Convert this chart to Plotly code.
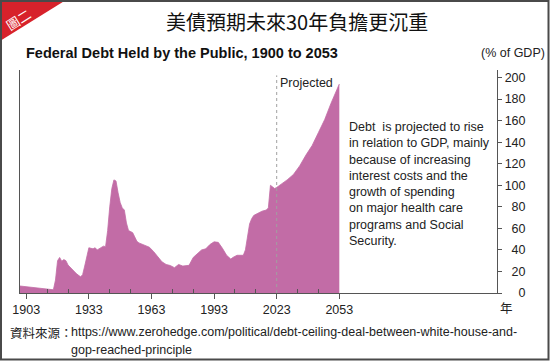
import plotly.graph_objects as go

# ---------------- data ----------------
years = [1900, 1905, 1910, 1916, 1917, 1918, 1919, 1920, 1921, 1922, 1923, 1925, 1927, 1929,
         1930, 1931, 1932, 1933, 1935, 1936, 1937, 1939, 1940, 1941, 1942, 1943, 1944, 1945,
         1946, 1947, 1948, 1949, 1950, 1951, 1952, 1953, 1954, 1955, 1956, 1957, 1959, 1960,
         1962, 1964, 1966, 1968, 1970, 1972, 1974, 1976, 1978, 1980, 1981, 1983, 1985, 1987,
         1989, 1991, 1993, 1995, 1997, 1999, 2001, 2002, 2004, 2007, 2008, 2009, 2010, 2011,
         2012, 2014, 2016, 2018, 2019, 2020, 2021, 2022, 2023, 2026, 2028, 2031, 2034, 2037,
         2040, 2043, 2046, 2049, 2053]
debt_pct_gdp = [6.5, 5.2, 4.3, 3.0, 12, 30, 33, 29.5, 31, 30, 26, 21.5, 18, 15,
                17, 25, 35, 42, 41, 42, 40, 42, 43.5, 43, 58, 80, 97, 105,
                104, 93, 84, 79, 77, 65, 58, 57, 56, 52, 48, 46.5, 45, 44,
                42.5, 38.5, 33.5, 29, 26.5, 25.5, 23.5, 26.5, 25, 25.5, 25.7, 33, 37, 40,
                41, 45, 47.5, 47, 41.5, 35, 31.5, 33, 35, 35, 40, 54, 64, 69,
                72, 74, 76, 77, 79, 100, 98.5, 97, 98, 102, 105, 110, 118, 128,
                137, 149, 161, 176, 194]
projection_start = 2023

x_tick_vals = [1903, 1933, 1963, 1993, 2023, 2053]
x_tick_text = ["1903", "1933", "1963", "1993", "2023", "2053"]
x_minor_vals = [1913, 1923, 1943, 1953, 1973, 1983, 2003, 2013, 2033, 2043]
y_tick_vals = [0, 20, 40, 60, 80, 100, 120, 140, 160, 180, 200]
y_tick_text = ["0", "20", "40", "60", "80", "100", "120", "140", "160", "180", "200"]

title_text = "美債預期未來30年負擔更沉重"
subtitle_text = "Federal Debt Held by the Public, 1900 to 2053"
unit_text = "(% of GDP)"
note_lines = ["Debt\u00a0 is projected to rise", "in relation to GDP, mainly",
              "because of increasing", "interest costs and the", "growth of spending",
              "on major health care", "programs and Social", "Security."]
source_label = "資料來源："
source_lines = ["https://www.zerohedge.com/political/debt-ceiling-deal-between-white-house-and-",
                "gop-reached-principle"]
badge_text = "圖二"
x_unit = "年"
projected_label = "Projected"

# ---------------- layout helpers ----------------
W, H = 550, 361
L, R, T, B = 20, 53, 70, 68
PW, PH = W - L - R, H - T - B


def px(x):
    return (x - L) / PW


def py(y):
    return (H - B - y) / PH


LAT = "Liberation Sans, Arial, sans-serif"
CJK = "Noto Sans CJK TC, Noto Sans CJK SC, sans-serif"
FILL = "#C26CA6"
AX = "#555555"

# right-align y tick labels with figure spaces
maxlen = max(len(t) for t in y_tick_text)
y_tick_text_aligned = ["\u2007" * (maxlen - len(t)) + t for t in y_tick_text]

fig = go.Figure()
fig.add_trace(go.Scatter(
    x=years, y=debt_pct_gdp, mode="lines", fill="tozeroy",
    fillcolor=FILL, line=dict(color=FILL, width=0.8),
    hoverinfo="x+y", showlegend=False,
))

fig.update_layout(
    width=W, height=H,
    margin=dict(l=L, r=R, t=T, b=B, pad=0),
    paper_bgcolor="white", plot_bgcolor="white",
    font=dict(family=LAT, size=12.5, color="#222"),
    xaxis=dict(
        range=[1900, 1900 + (W - R - L) / 2.087],
        tickmode="array", tickvals=x_tick_vals, ticktext=x_tick_text,
        ticks="outside", ticklen=5, tickwidth=1, tickcolor=AX,
        minor=dict(tickmode="array", tickvals=x_minor_vals, ticks="inside",
                   ticklen=4, tickwidth=1, tickcolor=AX, showgrid=False),
        showline=True, linecolor=AX, linewidth=1.3,
        showgrid=False, zeroline=False,
        tickfont=dict(family=LAT, size=12.5, color="#222"),
        fixedrange=True,
    ),
    yaxis=dict(
        range=[0, 207], side="right",
        tickmode="array", tickvals=y_tick_vals, ticktext=y_tick_text_aligned,
        ticks="outside", ticklen=4, tickwidth=1, tickcolor=AX,
        showline=True, mirror=True, linecolor=AX, linewidth=1.3,
        showgrid=False, zeroline=False,
        tickfont=dict(family=LAT, size=12.5, color="#222"),
        fixedrange=True,
    ),
)

shapes = [
    # red corner badge
    dict(type="path", xref="paper", yref="paper",
         path=f"M {px(0)},{py(0)} L {px(66)},{py(0)} L {px(0)},{py(41)} Z",
         fillcolor="#D7222B", line=dict(width=0), layer="above"),
    # outer frame
    dict(type="rect", xref="paper", yref="paper",
         x0=px(1), y0=py(1), x1=px(548.5), y1=py(359.5),
         line=dict(color="#4a4a4a", width=2), fillcolor="rgba(0,0,0,0)", layer="above"),
    # projection divider
    dict(type="line", xref="x", yref="y", x0=projection_start, x1=projection_start,
         y0=0, y1=202, line=dict(color="#a0a0a0", width=1, dash="dot"), layer="above"),
]
fig.update_layout(shapes=shapes)


def ann(text, x, y, size=12.5, family=LAT, xanchor="left", yanchor="middle",
        color="#222", **kw):
    fig.add_annotation(text=text, x=px(x), y=py(y), xref="paper", yref="paper",
                       xanchor=xanchor, yanchor=yanchor, showarrow=False,
                       font=dict(family=family, size=size, color=color), **kw)


ann(title_text, 297, 21, size=20, family=CJK, xanchor="center", color="#111")
ann("<b>" + subtitle_text + "</b>", 24, 53, size=14.5, color="#111")
ann(unit_text, 479, 53, size=12.5)
ann(projected_label, 278, 83, size=12.5)
ann("<br>".join(note_lines), 347, 183.5, size=12.5, align="left")
ann(x_unit, 507, 307, size=12.5, family=CJK, xanchor="center")
ann(source_label, 8, 332, size=12.5, family=CJK)
ann(source_lines[0], 69, 332, size=12.5)
ann(source_lines[1], 69, 350, size=12.5)
ann(badge_text, 18, 19, size=13, family=CJK, xanchor="center", color="white",
    textangle=-32)

fig.write_html("out.html", config={"displayModeBar": False},
               post_script="document.body.style.margin='0';document.body.style.padding='0';")
